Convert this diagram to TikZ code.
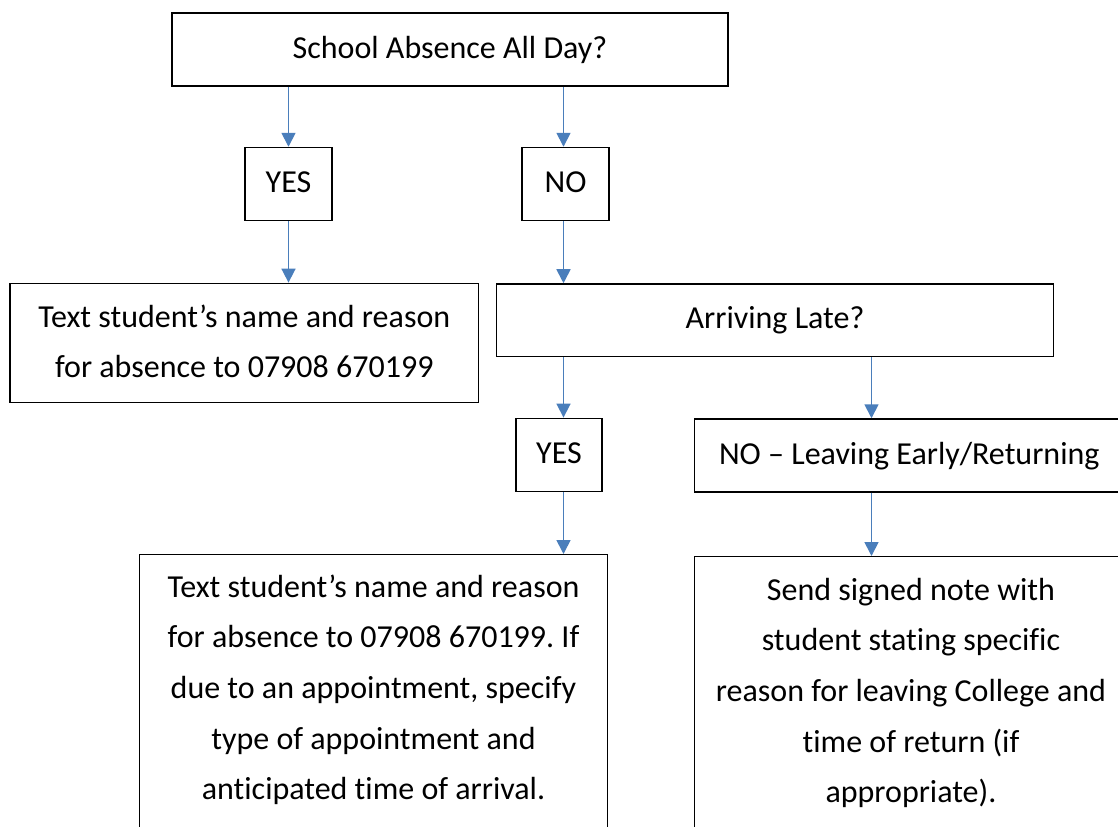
\documentclass[tikz,border=0pt]{standalone}
\usepackage{fontspec}
\setmainfont{Carlito}[Ligatures=NoCommon]
\usetikzlibrary{arrows.meta}
\definecolor{arrowblue}{RGB}{74,126,187}
\begin{document}
\frenchspacing
\begin{tikzpicture}[x=0.75pt,y=-0.75pt,
  every node/.style={font=\fontsize{24}{38}\selectfont},
  box/.style={draw=black,line width=1.1pt,inner sep=0pt},
  lbl/.style={text height=16.5pt,text depth=3.5pt},
  para/.style={inner sep=0pt,align=center,anchor=north},
  arr/.style={draw=arrowblue,line width=1.3pt,-{Triangle[width=10.5pt,length=10.5pt]}}]
\clip (0,0) rectangle (1118,827);
\fill[white] (0,0) rectangle (1118,827);
% boxes
\node[box,lbl,minimum width=417pt,minimum height=54.75pt] (top) at (450,49.6) {School Absence All Day?};
\node[box,lbl,minimum width=65.25pt,minimum height=54.75pt] (yes1) at (288.5,184) {YES};
\node[box,lbl,minimum width=65.25pt,minimum height=54.75pt] (no1) at (565.5,184) {NO};
\node[box,minimum width=351.4pt,minimum height=89.5pt] (abs) at (244.25,343) {};
\node[para] (abst) at (244.25,300.3) {\rule{0pt}{20pt}Text student’s name and reason\\for absence to 07908 670199};
\node[box,lbl,minimum width=417.75pt,minimum height=54.5pt] (late) at (775,320.3) {Arriving Late?};
\node[box,lbl,minimum width=64.5pt,minimum height=54.75pt] (yes2) at (559,454.8) {YES};
\node[box,minimum width=335pt,minimum height=54.75pt,anchor=west] (no2) at (693.5,455.5) {};
\node[lbl,inner sep=0pt] (no2t) at (909.25,455.5) {NO – Leaving Early/Returning};
\node[box,minimum width=351pt,minimum height=240pt,anchor=north] (bl) at (373.5,554) {};
\node[para] (blt) at (373.5,570.3) {\rule{0pt}{20pt}Text student’s name and reason\\for absence to 07908 670199. If\\due to an appointment, specify\\type of appointment and\\anticipated time of arrival.};
\node[box,minimum width=335pt,minimum height=240pt,anchor=north west] (br) at (694,556) {};
\node[para] (brt) at (911,573.3) {\rule{0pt}{20pt}Send signed note with\\student stating specific\\reason for leaving College and\\time of return (if\\appropriate).};
\coordinate (colA) at (563.5,0);
\coordinate (colB) at (871.5,0);
% connectors
\draw[arr] (top.south -| yes1) -- (yes1.north);
\draw[arr] (top.south -| colA) -- (no1.north -| colA);
\draw[arr] (yes1.south) -- (yes1.south |- abs.north);
\draw[arr] (no1.south -| colA) -- (late.north -| colA);
\draw[arr] (late.south -| colA) -- (yes2.north -| colA);
\draw[arr] (late.south -| colB) -- (no2.north -| colB);
\draw[arr] (yes2.south -| colA) -- (bl.north -| colA);
\draw[arr] (no2.south -| colB) -- (br.north -| colB);
\end{tikzpicture}
\end{document}
